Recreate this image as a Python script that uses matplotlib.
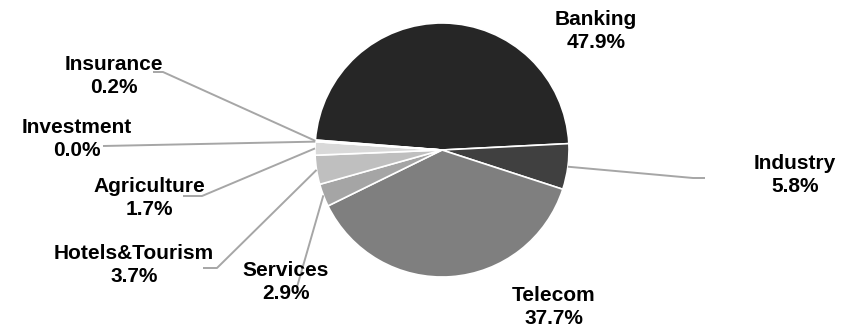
import numpy as np
import matplotlib
matplotlib.use("Agg")
import matplotlib.pyplot as plt

# ---- data ----
categories = ["Banking", "Industry", "Telecom", "Services", "Hotels&Tourism",
              "Agriculture", "Investment", "Insurance"]
shares = [47.9, 5.8, 37.7, 2.9, 3.7, 1.7, 0.0, 0.2]
pct_labels = ["47.9%", "5.8%", "37.7%", "2.9%", "3.7%", "1.7%", "0.0%", "0.2%"]
colors = ["#262626", "#404040", "#7f7f7f", "#a5a5a5", "#bfbfbf",
          "#d9d9d9", "#e6e6e6", "#f2f2f2"]

# ---- layout (pixels of the 852x327 canvas) ----
W, H = 852, 327
CX, CY, R = 442, 150, 127

def px(x, y):
    return ((x - CX) / R, (CY - y) / R)

# label block centres
label_pos = {
    "Banking": (596, 31),
    "Industry": (795, 175),
    "Telecom": (554, 307),
    "Services": (286, 282),
    "Hotels&Tourism": (134, 265),
    "Agriculture": (149, 198),
    "Investment": (77, 139),
    "Insurance": (114, 76),
}
# leader line paths (elbow, end) in pixels
leaders = {
    "Industry": [(693, 178), (705, 178)],
    "Services": [(297, 287)],
    "Hotels&Tourism": [(217, 268), (203, 268)],
    "Agriculture": [(202, 196), (183, 196)],
    "Investment": [(103, 146)],
    "Insurance": [(163, 72), (153, 72)],
}

plt.rcParams['font.family'] = ['Liberation Sans', 'DejaVu Sans']
fig = plt.figure(figsize=(W / 100, H / 100), dpi=100)
ax = fig.add_axes([0, 0, 1, 1])

wedges, _ = ax.pie(shares, colors=colors, startangle=175.5, counterclock=False,
                   radius=1.0, center=(0, 0), frame=True,
                   wedgeprops=dict(edgecolor='white', linewidth=1.2))
ax.set_xlim(-CX / R, (W - CX) / R)
ax.set_ylim(-(H - CY) / R, CY / R)
ax.set_aspect('equal')
ax.axis('off')

for w, cat, pl in zip(wedges, categories, pct_labels):
    mid = np.deg2rad((w.theta1 + w.theta2) / 2)
    if cat in leaders:
        xs = [np.cos(mid)]
        ys = [np.sin(mid)]
        for p in leaders[cat]:
            dx, dy = px(*p)
            xs.append(dx)
            ys.append(dy)
        ax.plot(xs, ys, color='#a6a6a6', lw=1.4, zorder=1,
                solid_capstyle='butt')
    tx, ty = px(*label_pos[cat])
    ax.text(tx, ty, f"{cat}\n{pl}", ha='center', va='center',
            fontsize=15, fontweight='bold', color='black',
            linespacing=1.3, zorder=5)

fig.savefig("out.png", dpi=100)
